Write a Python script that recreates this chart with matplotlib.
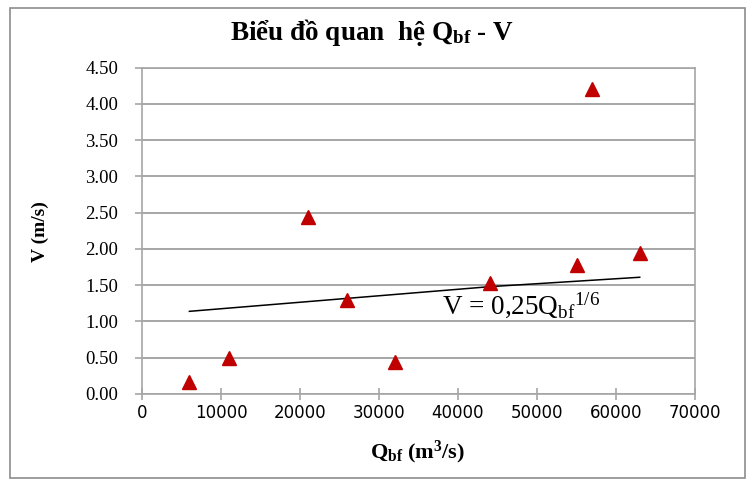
import matplotlib
matplotlib.use("Agg")
import matplotlib.pyplot as plt
from matplotlib.patches import Rectangle

# data
q_bf = [6000, 11000, 21000, 26000, 32000, 44000, 55000, 57000, 63000]
v = [0.17, 0.50, 2.44, 1.30, 0.44, 1.53, 1.78, 4.20, 1.94]
trend_q = [6000, 25000, 44000, 63000]
trend_v = [1.14, 1.31, 1.48, 1.61]
x_ticks = [0, 10000, 20000, 30000, 40000, 50000, 60000, 70000]
y_ticks = [0.0, 0.5, 1.0, 1.5, 2.0, 2.5, 3.0, 3.5, 4.0, 4.5]

plt.rcParams["mathtext.fontset"] = "custom"
plt.rcParams["mathtext.rm"] = "Liberation Serif"
plt.rcParams["mathtext.it"] = "Liberation Serif:italic"
plt.rcParams["mathtext.bf"] = "Liberation Serif:bold"
serif = "Liberation Serif"
grid_c = "#a6a6a6"

fig = plt.figure(figsize=(7.55, 4.84), dpi=100)
ax = fig.add_axes([142/755, 1-394/484, (695-142)/755, (394-67.7)/484])

fig.patches.append(Rectangle((10/755, 1-478/484), 735/755, 470/484, transform=fig.transFigure,
                             fill=False, edgecolor="#8c8c8c", lw=1.2))

ax.plot(trend_q, trend_v, color="black", lw=1.1, zorder=2)
ax.plot(q_bf, v, ls="none", marker="^", ms=10, color="#c00000", zorder=3)

ax.set_xlim(0, 70000); ax.set_ylim(0, 4.5)
ax.set_xticks(x_ticks); ax.set_yticks(y_ticks)
ax.set_yticklabels([f"{t:.2f}" for t in y_ticks], fontfamily=serif, fontsize=13.5)
ax.set_xticklabels([str(t) for t in x_ticks], fontfamily="DejaVu Sans", fontsize=12)
ax.grid(axis="y", color=grid_c, lw=1.4)
ax.set_axisbelow(True)
for s in ax.spines.values(): s.set_color(grid_c); s.set_linewidth(1.2)
ax.tick_params(axis="x", direction="inout", length=9, color=grid_c, width=1.2, pad=3)
ax.tick_params(axis="y", direction="out", length=5, color=grid_c, width=1.2, pad=12)

fig.text(372/755, 1-33/484, r"Biểu đồ quan  hệ Q$_\mathbf{bf}$ - V", ha="center", va="center",
         fontfamily=serif, fontweight="bold", fontsize=19.5)
fig.text(40/755, 1-232/484, "V (m/s)", ha="center", va="center", rotation=90,
         fontfamily=serif, fontweight="bold", fontsize=14)
fig.text(418/755, 1-452/484, r"Q$_\mathbf{bf}$ (m$^\mathbf{3}$/s)", ha="center", va="center",
         fontfamily=serif, fontweight="bold", fontsize=16)
ax.text(38000, 1.22, r"V = 0,25Q$_\mathrm{bf}$$^\mathrm{1/6}$", ha="left", va="center",
        fontfamily=serif, fontsize=19.5)

fig.savefig("out.png", dpi=100)
